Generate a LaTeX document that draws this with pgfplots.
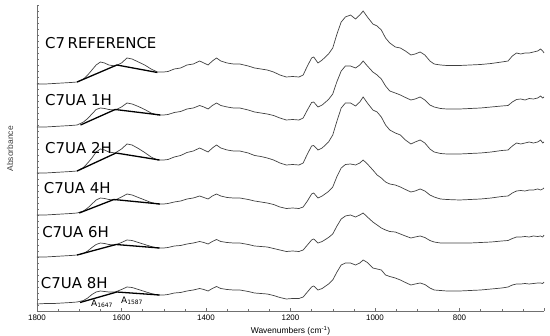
\documentclass[border=0pt]{standalone}
\usepackage{pgfplots}
\pgfplotsset{compat=1.18}
\usepackage{pgfplotstable}
\usepackage{fontspec}
\setmainfont{DejaVu Sans}
\newfontfamily\arial{Liberation Sans}

\pgfplotstableread{
w ref h1 h2 h4 h6 h8
1800 227 184 138 96 54 7
1780 227 184 138 96 54 7.5
1760 227.5 184.5 138.5 96.5 54.5 7.5
1740 228 185 139 97 55 8
1720 228.5 185.5 139.5 97.5 55.5 8.5
1705 229 186 140 98 56 9
1690 232 189 143.5 100 57.5 10.5
1680 236 192.5 148 103 60 13
1670 241 197 153 107 63.5 16.5
1660 246 201.5 159 111 66.5 19
1650 249 203 162 113 68 20
1640 248 202.5 161 112.5 67.5 19.5
1630 246 201.5 159 111.5 66.5 19
1615 245 201 158 111 66 19
1600 248 204 162 114 68.5 21.5
1587 253 208 167 117 71 24
1575 252 207 166 116 70.5 23.5
1560 249 204.5 162.5 113.5 68.5 21.5
1545 246 201.5 158.5 111 66.5 19.5
1530 242 198 154 108.5 64.5 17.5
1515 239 196 151 107 63 16
1500 239 196 151 107 63 16
1490 239.5 196.5 151.5 107.5 63.5 16.5
1475 242 198.5 154 109 65 18
1460 243 199.5 155.5 110 65.5 18.5
1445 246 202 158.5 112 67 20
1430 247 203 160 113 68 21
1415 250 205.5 163 115 69.5 22.5
1405 248 204 161 113.5 68.5 21.5
1395 246 202 159 112 67 20
1385 250 205.5 163 115 69.5 22.5
1375 253 208 166 117 71.5 24.5
1365 250 205.5 163 115 69.5 22.5
1350 248 204 161 113.5 68.5 21.5
1335 247 203 160 113 68 21
1320 247 203 160 113 68 21
1300 245 201 158 111.5 66.5 19.5
1285 243 199 155.5 110 65 18
1270 242 198 154.5 109 64.5 17.5
1255 241 197 153 108 64 17
1240 239 195.5 151 106.5 62.5 15.5
1225 236 193 148 104 61 13.5
1210 234 191 146 102.5 59.5 12
1195 234.5 191.5 146.5 103 60 12.5
1180 234 191 146 102.5 59.5 12.5
1170 236 193 148 104 61 14
1160 245 201 157 110 66 19
1150 253 208.5 165 117 71 24
1145 254 209 165.5 118 72 25
1135 248 204 161 113 68 21
1125 251 206 163 115 69.5 22.5
1110 257 211.5 169 119.5 73.5 27
1100 263 217 176 124 77 31
1090 277 229.5 190 134.5 85 39
1080 289 240 203 143 92 46
1070 294 245 208 146.5 95 48
1058 296 245 208 147 96 48
1046 292 243 205 146 94 46
1036 296 246 209 148 96 48
1028 300 250 214 151 98 51
1018 294 245 208 147 94 48.5
1005 287 239 201 141 89 43
995 285 236 199 136 86 42
985 281 232 194 133 83 41
975 273 225 186 129 81 36
965 268 220 181 127 79.5 34.5
952 264 218 178 126 79 33
940 263 216 176 124 77 31
928 260 213.5 171 121.5 75 28.5
915 256 211 167 119 73 26
905 257 212 169 120 74 27
893 259 214 171 122 75 28
882 256 211 168 120 73.5 26.5
870 250 206 162 116 70.5 23
860 247 204 159 114 69 21
845 246 202.5 157.5 112 68 20.5
830 245.5 202 157 111.5 68 20
800 245.5 202 157 111 68 20
775 246 202.5 157.5 111.5 68 20.5
750 246.5 203 158 112 68.5 21
725 247.5 204 159 113 69 22
700 249 205 160.5 114.5 70 23
685 250 205.5 161 115 70.5 24
675 255 209 165 118 72.5 26
665 258 211.5 168 120 74 27
655 257 212 167 120.5 74 27
645 258 211 168 120 74.5 27.5
635 258 212.5 169 121 74 27
625 259 212 168 121 75 27.5
615 260 213 169 122 74.5 28
608 262 215 171 121 75 28
603 260 213 168 122 74 27.5
600 258 214 169 123 76 29
}\spectra

\definecolor{spec}{HTML}{404040}
\definecolor{axgray}{HTML}{707070}

\begin{document}
\begin{tikzpicture}
\begin{axis}[
  at={(0,0)}, anchor=south west,
  scale only axis, width=507bp, height=306bp,
  xmin=600, xmax=1800, x dir=reverse,
  ymin=0, ymax=306,
  axis x line=bottom, axis y line=left,
  axis line style={-, axgray, line width=0.6pt},
  xtick={600,800,1000,1200,1400,1600,1800},
  xticklabels={,800,1000,1200,1400,1600,1800},
  minor x tick num=3,
  ytick={0,6,...,306}, yticklabels={},
  tick style={axgray, line width=0.4pt},
  major tick length=2.5bp, minor tick length=2bp,
  tick align=inside,
  xticklabel style={font=\arial\fontsize{8}{9}\selectfont},
  /pgf/number format/assume math mode=true,
  xlabel={Wavenumbers (cm\textsuperscript{-1})},
  xlabel style={font=\arial\fontsize{8.5}{10}\selectfont, at={(axis description cs:0.5,0)}, anchor=center, yshift=-20bp},
  ylabel={Absorbance},
  ylabel style={font=\arial\fontsize{8.5}{10}\selectfont, text=black!75, at={(axis description cs:-0.053,0.53)}, anchor=center},
  clip=false,
]
\addplot[spec, line width=0.7pt] table[x=w, y=ref] {\spectra};
\addplot[spec, line width=0.7pt] table[x=w, y=h1] {\spectra};
\addplot[spec, line width=0.7pt] table[x=w, y=h2] {\spectra};
\addplot[spec, line width=0.7pt] table[x=w, y=h4] {\spectra};
\addplot[spec, line width=0.7pt] table[x=w, y=h6] {\spectra};
\addplot[spec, line width=0.7pt] table[x=w, y=h8] {\spectra};

\addplot[black, line width=1.3pt] coordinates {(1705,229) (1611,246) (1515,238.5)};
\addplot[black, line width=1.3pt] coordinates {(1697,186) (1615,201.5) (1508,196)};
\addplot[black, line width=1.3pt] coordinates {(1705,140) (1613,158) (1510,151)};
\addplot[black, line width=1.3pt] coordinates {(1700,98) (1618,111.5) (1509,107)};
\addplot[black, line width=1.3pt] coordinates {(1705,56) (1613,66.5) (1510,63)};
\addplot[black, line width=1.3pt] coordinates {(1698,8.5) (1611,19) (1510,16)};

\node[anchor=west, inner sep=0pt, font=\fontsize{15}{17}\selectfont] at (axis cs:1781,268) {C7\,REFERENCE};
\node[anchor=west, inner sep=0pt, font=\fontsize{15}{17}\selectfont] at (axis cs:1781,211) {C7UA 1H};
\node[anchor=west, inner sep=0pt, font=\fontsize{15}{17}\selectfont] at (axis cs:1781,163) {C7UA 2H};
\node[anchor=west, inner sep=0pt, font=\fontsize{15}{17}\selectfont] at (axis cs:1784,123) {C7UA 4H};
\node[anchor=west, inner sep=0pt, font=\fontsize{15}{17}\selectfont] at (axis cs:1788,79) {C7UA 6H};
\node[anchor=west, inner sep=0pt, font=\fontsize{15}{17}\selectfont] at (axis cs:1791,28) {C7UA 8H};

\node[inner sep=0pt, font=\fontsize{9}{10}\selectfont] at (axis cs:1646,7) {A\textsubscript{1647}};
\node[inner sep=0pt, font=\fontsize{9}{10}\selectfont] at (axis cs:1575,10.5) {A\textsubscript{1587}};
\end{axis}
\pgfresetboundingbox
\useasboundingbox (-37bp,-25bp) rectangle (513bp,311bp);
\end{tikzpicture}
\end{document}
